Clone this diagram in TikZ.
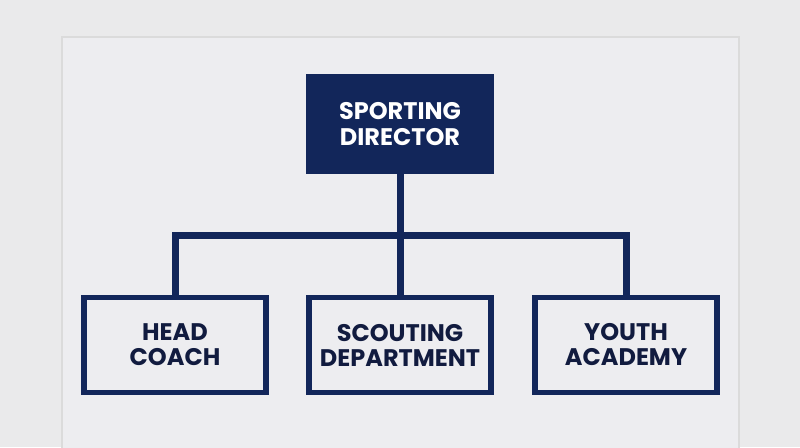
\documentclass[tikz,border=0pt]{standalone}
\usepackage{fontspec}
\setmainfont{Poppins}
\usetikzlibrary{calc}
\definecolor{navy}{HTML}{12265A}
\definecolor{ink}{HTML}{111B3F}
\definecolor{wall}{HTML}{EAEAEB}
\definecolor{board}{HTML}{EDEDF0}

\begin{document}
\begin{tikzpicture}[x=1pt,y=-1pt,
  director/.style={rectangle,fill=navy,text=white,minimum width=188pt,minimum height=100pt,align=center,font=\fontsize{24}{26}\selectfont\bfseries},
  unit/.style={rectangle,draw=navy,line width=5.5pt,text=ink,minimum width=182pt,minimum height=95pt,align=center,font=\fontsize{24}{25}\selectfont\bfseries},
  link/.style={draw=navy,line width=7pt}]
% wall and board
\fill[wall] (0,0) rectangle (800,447);
\useasboundingbox (0,0) rectangle (800,447);
\fill[board] (62,37) rectangle (739,450);
\draw[gray!28,line width=2pt] (62,450) -- (62,37) -- (739,37) -- (739,450);

\node(director)[director] at (400,124) {SPORTING\\DIRECTOR};
\node(coach)[unit] at (175,345) {HEAD\\COACH};
\node(scouting)[unit] at (400,345) {SCOUTING\\DEPARTMENT};
\node(academy)[unit] at (626,345) {YOUTH\\ACADEMY};
\coordinate (bus) at (400,235);

\draw [link] (director.south) -- (scouting.north);
\draw [link] (coach.north) |- (bus) -| (academy.north);
\end{tikzpicture}
\end{document}
